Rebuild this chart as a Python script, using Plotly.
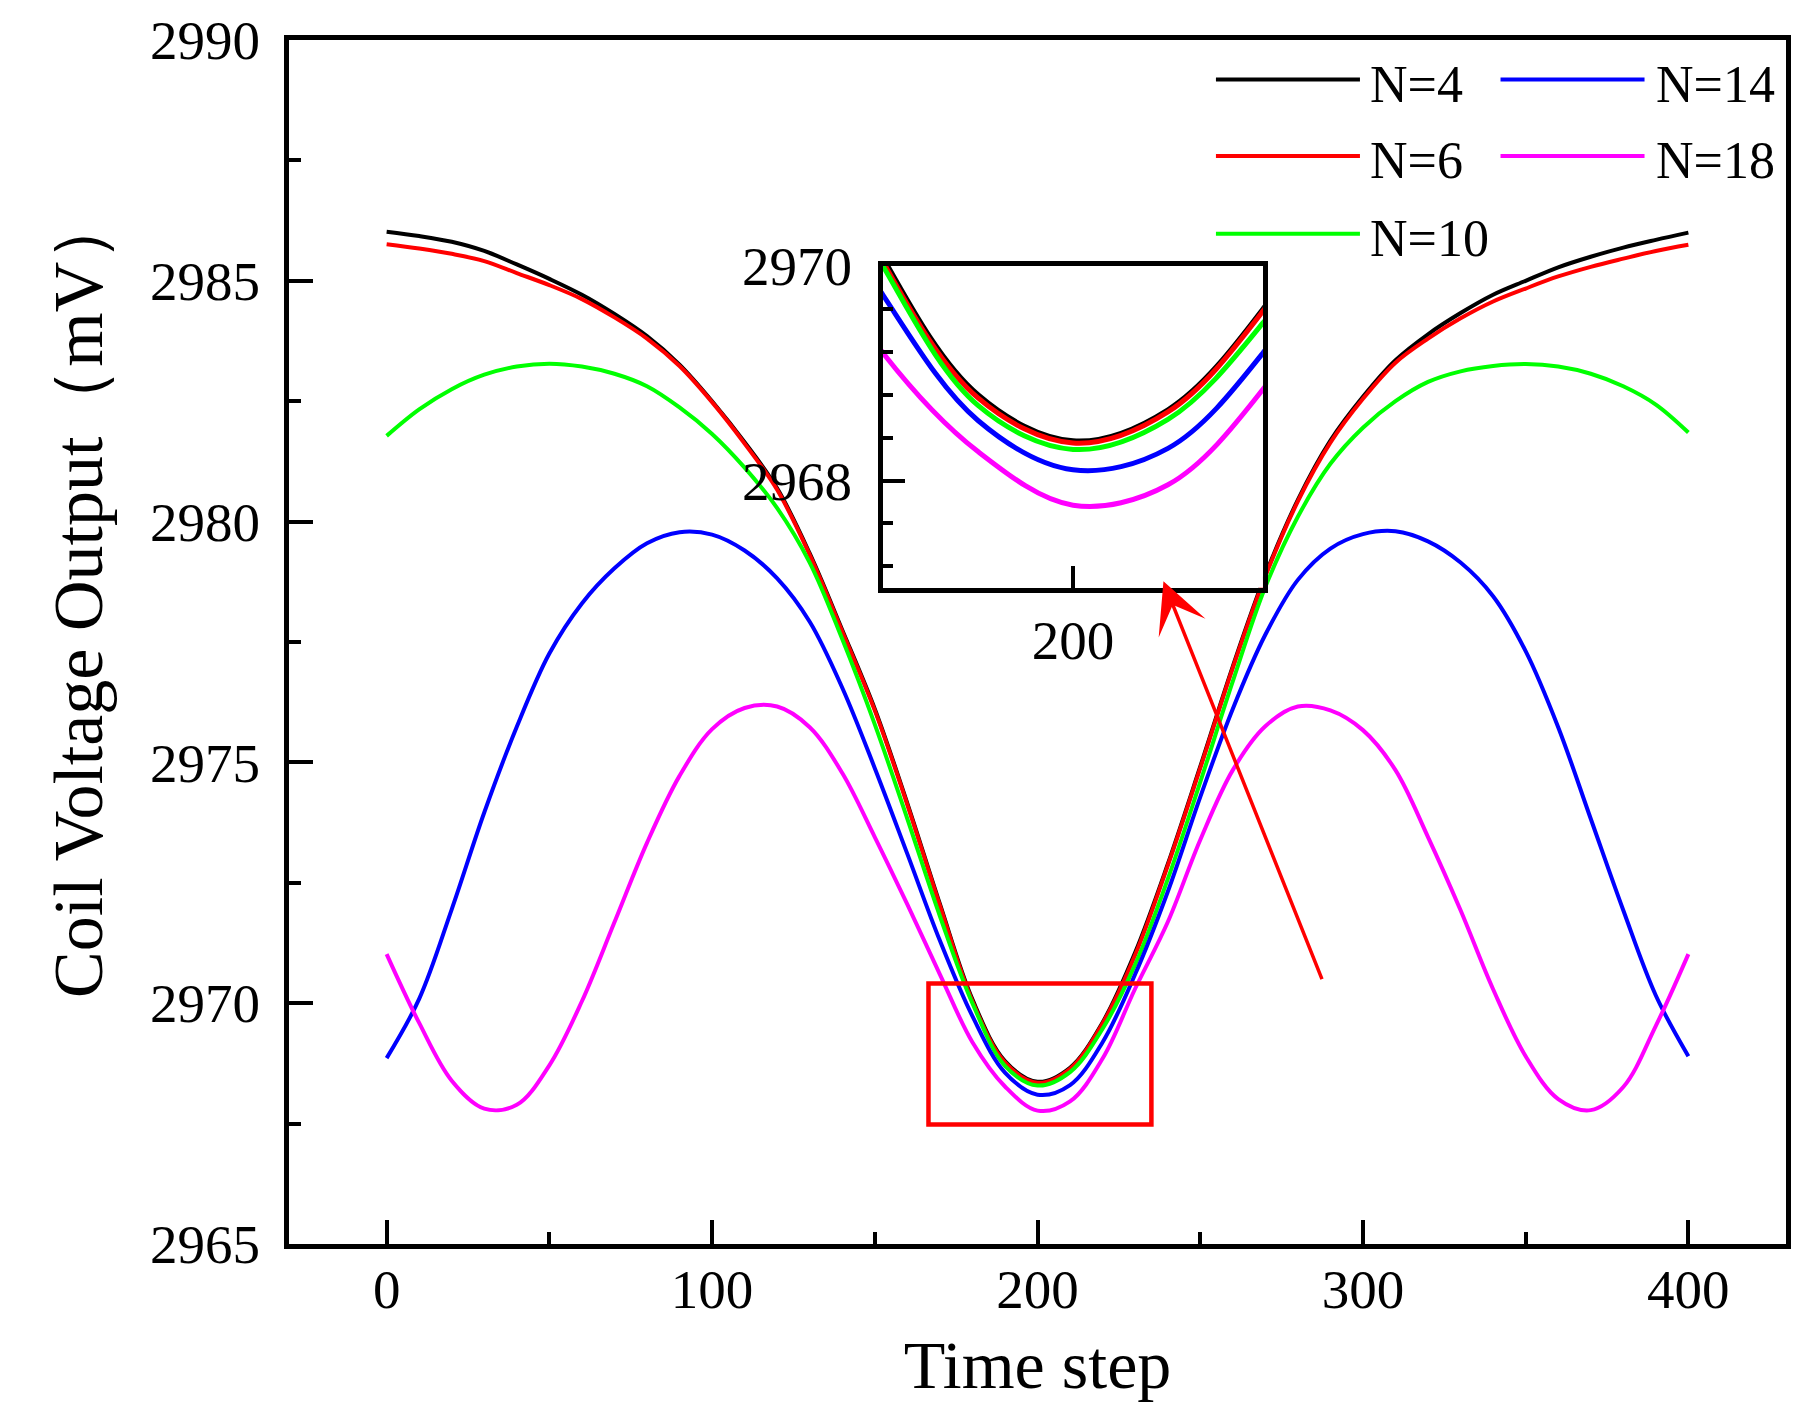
import plotly.graph_objects as go

# --- data (every 10 time steps) ---
time_step = list(range(0, 401, 10))

n4 = [2986.02, 2985.93, 2985.81, 2985.62, 2985.34, 2985.04, 2984.71, 2984.31, 2983.85, 2983.26,
      2982.50, 2981.65, 2980.69, 2979.34, 2977.75, 2976.11, 2974.15, 2972.06, 2970.08, 2968.80,
      2968.37, 2968.66, 2969.60, 2971.05, 2972.88, 2974.91, 2976.99, 2978.89, 2980.45, 2981.68,
      2982.59, 2983.35, 2983.89, 2984.33, 2984.71, 2985.00, 2985.28, 2985.50, 2985.69, 2985.85,
      2986.00]

n6 = [2985.76, 2985.67, 2985.56, 2985.41, 2985.16, 2984.91, 2984.62, 2984.24, 2983.80, 2983.23,
      2982.48, 2981.62, 2980.66, 2979.31, 2977.72, 2976.08, 2974.12, 2972.03, 2970.04, 2968.77,
      2968.35, 2968.64, 2969.58, 2971.00, 2972.85, 2974.88, 2976.96, 2978.86, 2980.42, 2981.64,
      2982.55, 2983.30, 2983.80, 2984.22, 2984.57, 2984.84, 2985.09, 2985.29, 2985.46, 2985.62,
      2985.75]

n10 = [2981.78, 2982.33, 2982.75, 2983.05, 2983.22, 2983.28, 2983.22, 2983.07, 2982.81, 2982.37,
       2981.82, 2981.12, 2980.28, 2979.15, 2977.56, 2975.79, 2973.83, 2971.81, 2970.00, 2968.70,
       2968.29, 2968.57, 2969.47, 2970.80, 2972.57, 2974.59, 2976.68, 2978.64, 2980.10, 2981.20,
       2981.95, 2982.50, 2982.90, 2983.12, 2983.23, 2983.27, 2983.22, 2983.07, 2982.81, 2982.43,
       2981.85]

n14 = [2968.86, 2970.09, 2971.95, 2973.96, 2975.74, 2977.26, 2978.30, 2979.03, 2979.55, 2979.78,
       2979.73, 2979.40, 2978.82, 2977.92, 2976.55, 2974.88, 2973.10, 2971.30, 2969.73, 2968.56,
       2968.10, 2968.30, 2969.19, 2970.60, 2972.31, 2974.28, 2976.11, 2977.65, 2978.79, 2979.44,
       2979.74, 2979.80, 2979.59, 2979.15, 2978.45, 2977.31, 2975.73, 2973.83, 2971.93, 2970.16,
       2968.90]

n18 = [2971.02, 2969.59, 2968.39, 2967.81, 2967.89, 2968.71, 2970.04, 2971.68, 2973.33, 2974.72,
       2975.69, 2976.13, 2976.16, 2975.73, 2974.78, 2973.45, 2972.05, 2970.60, 2969.19, 2968.27,
       2967.77, 2967.96, 2968.85, 2970.30, 2971.68, 2973.39, 2974.84, 2975.75, 2976.16, 2976.08,
       2975.67, 2974.84, 2973.45, 2971.93, 2970.29, 2968.90, 2968.01, 2967.78, 2968.26, 2969.53,
       2971.02]

series_names = ["N=4", "N=6", "N=10", "N=14", "N=18"]
series_values = [n4, n6, n10, n14, n18]
series_colors = ["#000000", "#FF0000", "#00FF00", "#0000FF", "#FF00FF"]

FONT = "Liberation Serif"

fig = go.Figure()

# main curves
for name, vals, col in zip(series_names, series_values, series_colors):
    fig.add_trace(go.Scatter(
        x=time_step, y=vals, mode="lines", name=name,
        line=dict(color=col, width=4, shape="spline", smoothing=1.0),
        showlegend=False,
    ))

# same curves again for the zoomed inset
for name, vals, col in zip(series_names, series_values, series_colors):
    fig.add_trace(go.Scatter(
        x=time_step, y=vals, mode="lines", name=name,
        line=dict(color=col, width=5, shape="spline", smoothing=1.0),
        xaxis="x2", yaxis="y2", showlegend=False,
    ))

def axis_style(ticklen):
    return dict(
        showline=True, linecolor="black", linewidth=5, mirror=True,
        ticks="inside", tickcolor="black", tickwidth=4, ticklen=ticklen,
        showgrid=False, zeroline=False, automargin=False,
        ticklabeloverflow="allow",
        tickfont=dict(family=FONT, size=55, color="black"),
    )

# the page adds an 8px body margin, so the figure is shifted by that much
fig.update_layout(
    width=1809, height=1418,
    paper_bgcolor="white", plot_bgcolor="white",
    margin=dict(l=281, r=31, t=32, b=182),
    font=dict(family=FONT, color="black"),
    xaxis=dict(
        **axis_style(24), range=[-30, 430], dtick=100, tick0=0,
        minor=dict(dtick=50, ticks="inside", ticklen=12, tickwidth=4, tickcolor="black"),
        ticklabelstandoff=-7,
        title=dict(text="Time step", font=dict(family=FONT, size=68), standoff=23),
    ),
    yaxis=dict(
        **axis_style(24), range=[2965, 2990], dtick=5, tick0=2965,
        minor=dict(dtick=2.5, ticks="inside", ticklen=12, tickwidth=4, tickcolor="black"),
        ticklabelstandoff=13,
    ),
    xaxis2=dict(
        **axis_style(22), domain=[0.3968, 0.6506], anchor="y2",
        range=[180, 220], dtick=50, tick0=0,
        ticklabelstandoff=0,
    ),
    yaxis2=dict(
        **axis_style(22), domain=[0.5451, 0.8122], anchor="x2",
        range=[2967, 2970], dtick=2, tick0=2966,
        minor=dict(dtick=0.4, tick0=2966, ticks="inside", ticklen=10, tickwidth=4, tickcolor="black"),
        ticklabelstandoff=15,
    ),
)

# y title as a rotated annotation so it can sit slightly above centre like the original
fig.add_annotation(x=-0.141, y=0.539, xref="paper", yref="paper",
                   text="Coil Voltage Output（mV）", textangle=-90, showarrow=False,
                   xanchor="center", yanchor="middle",
                   font=dict(family=FONT, size=70, color="black"))

# red box marking the zoomed region, and the arrow to the inset
fig.add_shape(type="rect", xref="x", yref="y", x0=166.5, x1=235, y0=2967.48, y1=2970.41,
              line=dict(color="#FF0000", width=4.5))
fig.add_annotation(x=238.7, y=2978.76, ax=287.6, ay=2970.47, xref="x", yref="y",
                   axref="x", ayref="y", text="", showarrow=True,
                   arrowhead=3, arrowsize=2.4, arrowwidth=3.5, arrowcolor="#FF0000")

# legend drawn by hand: long line samples in two columns like the original
legend_rows = [0.9672, 0.9036, 0.8390]
legend_cols = [(0.6192, 0.7154, 0.7208), (0.8093, 0.9055, 0.9115)]
legend_slots = {"N=4": (0, 0), "N=6": (0, 1), "N=10": (0, 2), "N=14": (1, 0), "N=18": (1, 1)}
for name, col in zip(series_names, series_colors):
    c, r = legend_slots[name]
    x0, x1, xt = legend_cols[c]
    yy = legend_rows[r]
    fig.add_shape(type="line", xref="paper", yref="paper", x0=x0, x1=x1, y0=yy, y1=yy,
                  line=dict(color=col, width=4))
    fig.add_annotation(x=xt, y=yy - 0.004, xref="paper", yref="paper", text=name,
                       showarrow=False, xanchor="left", yanchor="middle",
                       font=dict(family=FONT, size=52, color="black"))

fig.write_html("out.html")
